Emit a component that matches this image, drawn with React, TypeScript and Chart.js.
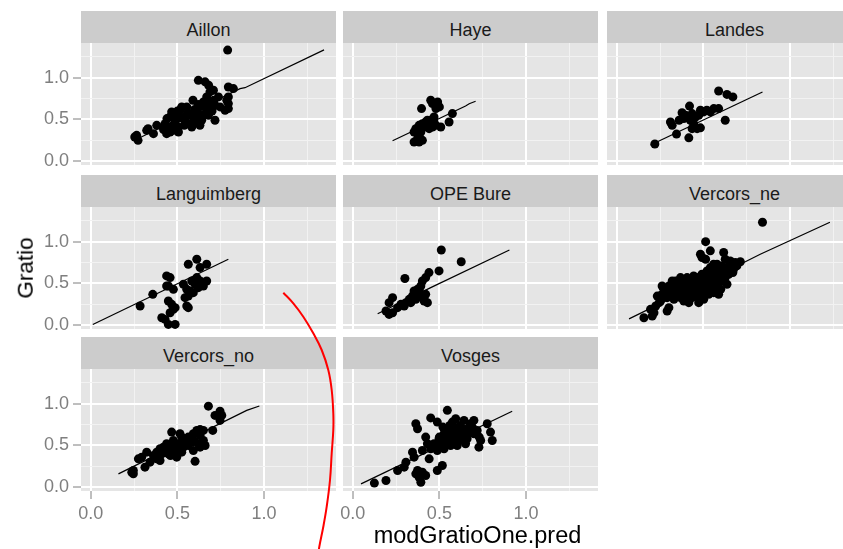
import { useEffect, useRef } from 'react';
import { Chart, registerables } from 'chart.js';

Chart.register(...registerables);

type XY = [number, number];

// Shared axis breaks: every 0.25 gets a grid line, every 0.5 a label
const gridBreaks = [0, 0.25, 0.5, 0.75, 1.0, 1.25];
const xLimits: XY = [-0.056, 1.415];
const yLimits: XY = [-0.045, 1.415];

const xTitle = 'modGratioOne.pred';
const yTitle = 'Gratio';

const facetNames = ['Aillon', 'Haye', 'Landes', 'Languimberg', 'OPE Bure', 'Vercors_ne', 'Vercors_no', 'Vosges'];

// observed Gratio against the model prediction, one pair per plot
const aillonObs: XY[] = [
  [0.79, 1.33], [0.621, 0.968], [0.66, 0.95], [0.68, 0.91], [0.708, 0.849], [0.688, 0.83], [0.794, 0.889],
  [0.823, 0.869], [0.794, 0.77], [0.785, 0.73], [0.794, 0.63], [0.737, 0.77], [0.71, 0.73], [0.717, 0.67],
  [0.669, 0.77], [0.65, 0.71], [0.63, 0.65], [0.61, 0.59], [0.59, 0.73], [0.554, 0.65], [0.525, 0.65],
  [0.515, 0.61], [0.467, 0.59], [0.458, 0.53], [0.44, 0.51], [0.59, 0.53], [0.61, 0.47], [0.63, 0.43],
  [0.64, 0.49], [0.554, 0.55], [0.544, 0.49], [0.573, 0.45], [0.583, 0.41], [0.496, 0.55], [0.487, 0.47],
  [0.506, 0.41], [0.477, 0.37], [0.458, 0.35], [0.448, 0.41], [0.429, 0.45], [0.419, 0.41], [0.438, 0.33],
  [0.506, 0.35], [0.717, 0.49], [0.381, 0.43], [0.362, 0.33], [0.323, 0.37], [0.331, 0.39], [0.265, 0.31],
  [0.273, 0.25], [0.254, 0.29], [0.669, 0.61], [0.679, 0.55], [0.65, 0.55], [0.688, 0.69], [0.746, 0.65],
  [0.775, 0.61], [0.794, 0.69], [0.63, 0.55], [0.61, 0.51], [0.5, 0.6], [0.52, 0.52], [0.56, 0.58],
  [0.6, 0.62], [0.62, 0.68], [0.66, 0.66], [0.7, 0.6], [0.54, 0.43], [0.47, 0.42], [0.42, 0.38],
];
const aillonPred: XY[] = [[0.256, 0.254], [0.55, 0.55], [0.823, 0.83], [0.862, 0.869], [0.89, 0.88], [1.346, 1.333]];

const hayeObs: XY[] = [
  [0.397, 0.63], [0.45, 0.73], [0.46, 0.69], [0.49, 0.71], [0.48, 0.63], [0.5, 0.65], [0.575, 0.57], [0.556, 0.47],
  [0.469, 0.53], [0.45, 0.49], [0.421, 0.47], [0.402, 0.45], [0.383, 0.43], [0.364, 0.39], [0.354, 0.35],
  [0.374, 0.33], [0.393, 0.35], [0.412, 0.41], [0.441, 0.39], [0.46, 0.41], [0.479, 0.43], [0.508, 0.41],
  [0.431, 0.49], [0.469, 0.47], [0.354, 0.23], [0.383, 0.23], [0.402, 0.25], [0.374, 0.27],
];
const hayePred: XY[] = [[0.23, 0.246], [0.651, 0.66], [0.672, 0.688], [0.709, 0.718]];

const landesObs: XY[] = [
  [0.22, 0.206], [0.345, 0.325], [0.416, 0.28], [0.588, 0.84], [0.636, 0.8], [0.67, 0.77], [0.626, 0.49],
  [0.42, 0.66], [0.377, 0.58], [0.397, 0.55], [0.435, 0.57], [0.483, 0.61], [0.52, 0.61], [0.56, 0.63],
  [0.588, 0.63], [0.54, 0.59], [0.31, 0.47], [0.32, 0.43], [0.36, 0.49], [0.387, 0.51], [0.425, 0.49],
  [0.454, 0.53], [0.444, 0.45], [0.464, 0.39], [0.483, 0.4], [0.435, 0.39], [0.473, 0.55], [0.502, 0.59],
];
const landesPred: XY[] = [[0.195, 0.194], [0.841, 0.829]];

const languimbergObs: XY[] = [
  [0.285, 0.23], [0.358, 0.37], [0.438, 0.59], [0.458, 0.57], [0.448, 0.47], [0.477, 0.43], [0.438, 0.47],
  [0.448, 0.29], [0.467, 0.25], [0.477, 0.19], [0.458, 0.15], [0.487, 0.21], [0.429, 0.07], [0.448, 0.01],
  [0.487, 0.01], [0.41, 0.09], [0.563, 0.73], [0.612, 0.79], [0.669, 0.73], [0.631, 0.69], [0.535, 0.49],
  [0.554, 0.43], [0.583, 0.53], [0.612, 0.57], [0.631, 0.53], [0.669, 0.53], [0.65, 0.47], [0.621, 0.45],
  [0.592, 0.39], [0.563, 0.35], [0.544, 0.33], [0.573, 0.41], [0.602, 0.49], [0.554, 0.23], [0.563, 0.21],
];
const languimbergPred: XY[] = [[0.012, 0.008], [0.794, 0.79]];

const opeBureObs: XY[] = [
  [0.511, 0.9], [0.626, 0.76], [0.498, 0.65], [0.301, 0.56], [0.44, 0.63], [0.421, 0.57], [0.402, 0.53],
  [0.393, 0.47], [0.374, 0.43], [0.354, 0.41], [0.345, 0.35], [0.326, 0.31], [0.307, 0.27], [0.297, 0.23],
  [0.335, 0.27], [0.364, 0.31], [0.393, 0.35], [0.421, 0.37], [0.412, 0.31], [0.383, 0.41], [0.23, 0.33],
  [0.21, 0.27], [0.192, 0.17], [0.21, 0.13], [0.23, 0.15], [0.278, 0.25], [0.259, 0.21], [0.412, 0.29],
  [0.431, 0.27],
];
const opeBurePred: XY[] = [[0.144, 0.137], [0.45, 0.45], [0.904, 0.9]];

const vercorsNeObs: XY[] = [
  [0.841, 1.233], [0.513, 1.0], [0.54, 0.89], [0.483, 0.85], [0.492, 0.81], [0.513, 0.79], [0.617, 0.87],
  [0.626, 0.79], [0.655, 0.77], [0.713, 0.76], [0.588, 0.37], [0.157, 0.09], [0.205, 0.11], [0.215, 0.15],
  [0.195, 0.19], [0.225, 0.23], [0.245, 0.27], [0.291, 0.17], [0.301, 0.21], [0.234, 0.349], [0.262, 0.369],
  [0.291, 0.41], [0.31, 0.45], [0.32, 0.53], [0.339, 0.53], [0.349, 0.47], [0.368, 0.57], [0.387, 0.51],
  [0.397, 0.43], [0.416, 0.47], [0.425, 0.55], [0.444, 0.59], [0.454, 0.49], [0.464, 0.41], [0.483, 0.53],
  [0.492, 0.61], [0.511, 0.55], [0.521, 0.65], [0.531, 0.47], [0.54, 0.69], [0.55, 0.61], [0.559, 0.53],
  [0.569, 0.67], [0.579, 0.73], [0.588, 0.63], [0.598, 0.57], [0.607, 0.71], [0.617, 0.65], [0.636, 0.69],
  [0.646, 0.61], [0.665, 0.75], [0.674, 0.67], [0.693, 0.71], [0.368, 0.33], [0.387, 0.29], [0.406, 0.35],
  [0.435, 0.33], [0.464, 0.35], [0.33, 0.31], [0.502, 0.43], [0.531, 0.37], [0.291, 0.33], [0.253, 0.29],
  [0.349, 0.39], [0.416, 0.27], [0.444, 0.41], [0.483, 0.33], [0.272, 0.43], [0.377, 0.45], [0.406, 0.57],
  [0.55, 0.45], [0.579, 0.51], [0.607, 0.53], [0.626, 0.57], [0.636, 0.49], [0.559, 0.73], [0.521, 0.41],
  [0.579, 0.45], [0.301, 0.47], [0.358, 0.51], [0.397, 0.55], [0.435, 0.49], [0.473, 0.47], [0.502, 0.51],
  [0.54, 0.57], [0.569, 0.59], [0.598, 0.65], [0.655, 0.65], [0.684, 0.75], [0.425, 0.39], [0.473, 0.27],
  [0.502, 0.31], [0.559, 0.39], [0.387, 0.39], [0.32, 0.39], [0.262, 0.47], [0.521, 0.53], [0.28, 0.39],
  [0.33, 0.45], [0.36, 0.43], [0.39, 0.47], [0.41, 0.51], [0.43, 0.45], [0.45, 0.55], [0.47, 0.57],
  [0.49, 0.49], [0.51, 0.59], [0.53, 0.55], [0.55, 0.65], [0.57, 0.55], [0.59, 0.61], [0.61, 0.59],
  [0.63, 0.63], [0.65, 0.71], [0.67, 0.63], [0.45, 0.37], [0.49, 0.39], [0.53, 0.43], [0.57, 0.47],
  [0.6, 0.43], [0.37, 0.37], [0.4, 0.41], [0.43, 0.53], [0.47, 0.43], [0.5, 0.37], [0.54, 0.51], [0.62, 0.67],
];
const vercorsNePred: XY[] = [[0.071, 0.076], [0.713, 0.73], [0.828, 0.85], [1.23, 1.233]];

const vercorsNoObs: XY[] = [
  [0.246, 0.16], [0.246, 0.2], [0.237, 0.18], [0.679, 0.97], [0.746, 0.91], [0.756, 0.86], [0.717, 0.86],
  [0.746, 0.8], [0.704, 0.68], [0.602, 0.31], [0.275, 0.34], [0.294, 0.36], [0.313, 0.24], [0.323, 0.42],
  [0.362, 0.38], [0.381, 0.34], [0.4, 0.32], [0.342, 0.3], [0.419, 0.48], [0.429, 0.42], [0.448, 0.4],
  [0.467, 0.5], [0.477, 0.44], [0.496, 0.36], [0.477, 0.56], [0.506, 0.52], [0.525, 0.6], [0.535, 0.48],
  [0.544, 0.56], [0.563, 0.5], [0.583, 0.54], [0.612, 0.68], [0.631, 0.62], [0.592, 0.64], [0.65, 0.56],
  [0.66, 0.5], [0.631, 0.48], [0.621, 0.52], [0.563, 0.6], [0.515, 0.64], [0.467, 0.66], [0.438, 0.52],
  [0.4, 0.46], [0.381, 0.42], [0.496, 0.46], [0.525, 0.42], [0.592, 0.44], [0.65, 0.68], [0.631, 0.69],
  [0.45, 0.45], [0.49, 0.5], [0.51, 0.42], [0.55, 0.52], [0.58, 0.58], [0.6, 0.55], [0.53, 0.54],
  [0.46, 0.38], [0.41, 0.4],
];
const vercorsNoPred: XY[] = [[0.16, 0.16], [0.9, 0.92], [0.973, 0.972]];

const vosgesObs: XY[] = [
  [0.125, 0.05], [0.192, 0.08], [0.259, 0.2], [0.307, 0.3], [0.297, 0.24], [0.345, 0.42], [0.354, 0.36],
  [0.374, 0.2], [0.383, 0.12], [0.393, 0.06], [0.421, 0.14], [0.402, 0.18], [0.364, 0.16], [0.488, 0.2],
  [0.517, 0.26], [0.441, 0.34], [0.364, 0.76], [0.374, 0.7], [0.421, 0.6], [0.45, 0.83], [0.488, 0.78],
  [0.546, 0.92], [0.469, 0.52], [0.498, 0.58], [0.508, 0.5], [0.527, 0.64], [0.546, 0.68], [0.556, 0.56],
  [0.575, 0.62], [0.584, 0.72], [0.594, 0.82], [0.603, 0.68], [0.623, 0.6], [0.642, 0.8], [0.651, 0.52],
  [0.661, 0.64], [0.69, 0.72], [0.699, 0.8], [0.718, 0.68], [0.738, 0.56], [0.728, 0.48], [0.776, 0.76],
  [0.795, 0.66], [0.805, 0.56], [0.671, 0.72], [0.565, 0.5], [0.603, 0.5], [0.45, 0.46], [0.488, 0.44],
  [0.527, 0.46], [0.632, 0.7], [0.575, 0.78], [0.402, 0.44], [0.431, 0.52], [0.52, 0.72], [0.54, 0.62],
  [0.56, 0.66], [0.58, 0.56], [0.6, 0.62], [0.62, 0.74], [0.64, 0.66], [0.66, 0.58], [0.68, 0.76],
  [0.7, 0.64], [0.73, 0.6], [0.56, 0.74], [0.5, 0.6], [0.53, 0.54], [0.61, 0.55],
];
const vosgesPred: XY[] = [[0.048, 0.04], [0.92, 0.91]];

// hand-drawn red stroke laid over the figure, in figure pixel units
const annotationStroke: XY[] = [
  [283.3, 292.7], [293.3, 303.3], [303.3, 316.7], [313.3, 333.3], [321.7, 350], [328.3, 370], [331.7, 390],
  [333.3, 413.3], [333.3, 430], [331.7, 453.3], [330, 480], [326.7, 506.7], [323.3, 526.7], [319.3, 546.7],
  [318.5, 553],
];

const facetObs = [aillonObs, hayeObs, landesObs, languimbergObs, opeBureObs, vercorsNeObs, vercorsNoObs, vosgesObs];
const facetPred = [aillonPred, hayePred, landesPred, languimbergPred, opeBurePred, vercorsNePred, vercorsNoPred, vosgesPred];

const FONT = '"Liberation Sans", Arial, Helvetica, sans-serif';
const FIG_W = 843;
const FIG_H = 549;
const COL_LEFT = [81, 343, 607];
const PANEL_TOP = [43, 207, 369];
const PANEL_W = 255;
const PANEL_H = 122;
const STRIP_H = 32;
const Y_AXIS_W = 81;
const X_AXIS_H = 34;
const PAD = 14;

Chart.defaults.font.family = FONT;

const isMinor = (v: number) => Math.abs(v * 2 - Math.round(v * 2)) > 1e-6;

const panelBackground = {
  id: 'panelBackground',
  beforeDraw(chart: Chart) {
    const { ctx, chartArea } = chart;
    ctx.save();
    ctx.fillStyle = '#E5E5E5';
    ctx.fillRect(chartArea.left, chartArea.top, chartArea.right - chartArea.left, chartArea.bottom - chartArea.top);
    ctx.restore();
  },
};

function axisOptions(axis: 'x' | 'y', showLabels: boolean, limits: XY) {
  return {
    type: 'linear',
    position: axis === 'x' ? 'bottom' : 'left',
    min: limits[0],
    max: limits[1],
    afterBuildTicks: (scale: any) => {
      scale.ticks = gridBreaks.map((v) => ({ value: v }));
    },
    afterFit: (scale: any) => {
      if (axis === 'x') scale.height = showLabels ? X_AXIS_H : 0;
      else scale.width = showLabels ? Y_AXIS_W : 0;
      scale.paddingLeft = 0;
      scale.paddingRight = 0;
      scale.paddingTop = 0;
      scale.paddingBottom = 0;
    },
    border: { display: false },
    grid: {
      drawTicks: showLabels,
      tickLength: 8,
      tickWidth: 1,
      tickColor: (c: any) => (c.tick && isMinor(c.tick.value) ? 'rgba(0,0,0,0)' : '#7F7F7F'),
      color: (c: any) => (c.tick && isMinor(c.tick.value) ? '#F2F2F2' : '#FFFFFF'),
      lineWidth: (c: any) => (c.tick && isMinor(c.tick.value) ? 1 : 2),
    },
    ticks: {
      display: showLabels,
      autoSkip: false,
      maxRotation: 0,
      minRotation: 0,
      padding: 4,
      color: '#7F7F7F',
      font: { family: FONT, size: 18 },
      callback: (v: number) => (isMinor(v) ? '' : v.toFixed(1)),
    },
  };
}

type PanelProps = { index: number; col: number; row: number; xLabels: boolean; yLabels: boolean };

function FacetPanel({ index, col, row, xLabels, yLabels }: PanelProps) {
  const ref = useRef<HTMLCanvasElement>(null);
  const left = col === 0 ? 0 : COL_LEFT[col] - PAD;
  const padLeft = col === 0 ? COL_LEFT[0] - Y_AXIS_W : PAD;
  const top = PANEL_TOP[row] - PAD;
  const width = COL_LEFT[col] + PANEL_W + PAD - left;
  const height = PAD + PANEL_H + (xLabels ? X_AXIS_H : 0) + PAD;

  useEffect(() => {
    if (!ref.current) return;
    const chart = new Chart(ref.current, {
      type: 'scatter',
      data: {
        datasets: [
          {
            data: facetObs[index].map(([x, y]) => ({ x, y })),
            pointRadius: 4.5,
            pointHoverRadius: 4.5,
            backgroundColor: '#000000',
            borderColor: '#000000',
            borderWidth: 0,
          },
          {
            data: facetPred[index].map(([x, y]) => ({ x, y })),
            showLine: true,
            pointRadius: 0,
            borderColor: '#000000',
            borderWidth: 1.2,
            tension: 0,
          },
        ],
      },
      options: {
        animation: false,
        responsive: false,
        maintainAspectRatio: false,
        events: [],
        layout: { padding: { left: padLeft, right: PAD, top: PAD, bottom: PAD } },
        plugins: { legend: { display: false }, tooltip: { enabled: false } },
        scales: {
          x: axisOptions('x', xLabels, xLimits) as any,
          y: axisOptions('y', yLabels, yLimits) as any,
        },
      },
      plugins: [panelBackground],
    });
    return () => chart.destroy();
  }, [index, xLabels, yLabels]);

  return (
    <canvas
      ref={ref}
      width={width}
      height={height}
      style={{ position: 'absolute', left, top, width, height }}
    />
  );
}

function Strip({ name, col, row }: { name: string; col: number; row: number }) {
  return (
    <div
      style={{
        position: 'absolute',
        left: COL_LEFT[col],
        top: PANEL_TOP[row] - STRIP_H,
        width: PANEL_W,
        height: STRIP_H,
        background: '#CCCCCC',
        color: '#1A1A1A',
        fontSize: 18,
        lineHeight: `${STRIP_H}px`,
        textAlign: 'center',
        whiteSpace: 'nowrap',
      }}
    >
      <span style={{ position: 'relative', top: 3 }}>{name}</span>
    </div>
  );
}

function StrokeOverlay() {
  const ref = useRef<HTMLCanvasElement>(null);
  useEffect(() => {
    if (!ref.current) return;
    const chart = new Chart(ref.current, {
      type: 'scatter',
      data: {
        datasets: [
          {
            data: annotationStroke.map(([x, y]) => ({ x, y })),
            showLine: true,
            pointRadius: 0,
            borderColor: '#FF0000',
            borderWidth: 2,
            tension: 0.4,
          },
        ],
      },
      options: {
        animation: false,
        responsive: false,
        maintainAspectRatio: false,
        events: [],
        layout: { padding: 0 },
        plugins: { legend: { display: false }, tooltip: { enabled: false } },
        scales: {
          x: { type: 'linear', min: 0, max: FIG_W, display: false },
          y: { type: 'linear', min: 0, max: FIG_H, reverse: true, display: false },
        },
      },
    });
    return () => chart.destroy();
  }, []);
  return (
    <canvas
      ref={ref}
      width={FIG_W}
      height={FIG_H}
      style={{ position: 'absolute', left: 0, top: 0, width: FIG_W, height: FIG_H, pointerEvents: 'none' }}
    />
  );
}

export default function App() {
  const cells = facetNames.map((name, i) => {
    const col = i % 3;
    const row = Math.floor(i / 3);
    return { name, i, col, row, xLabels: row === 2, yLabels: col === 0 };
  });

  return (
    <div
      style={{
        position: 'fixed',
        left: 0,
        top: 0,
        width: FIG_W,
        height: FIG_H,
        overflow: 'hidden',
        background: '#FFFFFF',
        fontFamily: FONT,
      }}
    >
      {cells.map((c) => (
        <Strip key={`s${c.i}`} name={c.name} col={c.col} row={c.row} />
      ))}
      {cells.map((c) => (
        <FacetPanel key={`p${c.i}`} index={c.i} col={c.col} row={c.row} xLabels={c.xLabels} yLabels={c.yLabels} />
      ))}
      <div
        style={{
          position: 'absolute',
          left: 25.5,
          top: 268,
          transform: 'translate(-50%, -50%) rotate(-90deg)',
          fontSize: 22.5,
          lineHeight: 1,
          color: '#000000',
          whiteSpace: 'nowrap',
        }}
      >
        {yTitle}
      </div>
      <div
        style={{
          position: 'absolute',
          left: 477.5,
          top: 524,
          transform: 'translateX(-50%)',
          fontSize: 23.5,
          lineHeight: 1,
          color: '#000000',
          whiteSpace: 'nowrap',
        }}
      >
        {xTitle}
      </div>
      <StrokeOverlay />
    </div>
  );
}
